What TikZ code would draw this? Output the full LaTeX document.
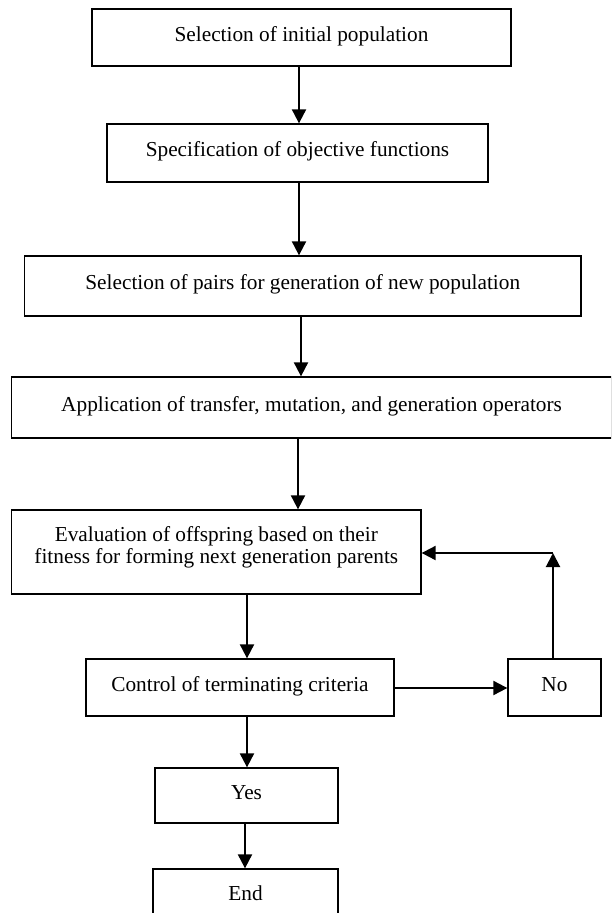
\documentclass[tikz,border=0pt]{standalone}
\usepackage{fontspec}
\setmainfont{Liberation Serif}
\usetikzlibrary{arrows.meta}
\begin{document}
\begin{tikzpicture}[x=1pt,y=-1pt,
  box/.style={draw, line width=1.3pt, inner sep=0pt,
    font=\fontsize{21.3}{22}\selectfont,
    text height=15pt, text depth=8pt, align=center},
  arr/.style={line width=2pt, -{Triangle[length=14pt,width=14pt]}}]
\clip (0,0) rectangle (611,913);
\fill[white] (0,0) rectangle (611,913);
\node[box, minimum width=419pt, minimum height=57pt] (b1) at (301.5,37.5) {Selection of initial population};
\node[box, minimum width=381pt, minimum height=58pt] (b2) at (297.5,153) {Specification of objective functions};
\node[box, minimum width=556.5pt, minimum height=60pt] (b3) at (302.75,286) {Selection of pairs for generation of new population};
\node[box, minimum width=599.8pt, minimum height=61pt] (b4) at (311.6,407.5) {Application of transfer, mutation, and generation operators};
\node[box, minimum width=409.3pt, minimum height=84pt, text height=26pt, text depth=4pt] (b5) at (216.35,552) {Evaluation of offspring based on their\\fitness for forming next generation parents};
\node[box, minimum width=308pt, minimum height=57pt] (b6) at (240,687.5) {Control of terminating criteria};
\node[box, minimum width=93pt, minimum height=57pt] (no) at (554.5,687.5) {No};
\node[box, minimum width=183pt, minimum height=55pt] (yes) at (246.5,795.5) {Yes};
\node[box, minimum width=185pt, minimum height=55pt] (end) at (245.5,896.5) {End};
\coordinate (c1) at (299,0);
\coordinate (c2) at (299,0);
\coordinate (c3) at (301,0);
\coordinate (c4) at (298,0);
\coordinate (c5) at (247,0);
\coordinate (c6) at (247,0);
\coordinate (c7) at (245,0);
\coordinate (c8) at (0,688);
\coordinate (fb) at (553,553);
\draw[arr] (b1.south -| c1) -- (b2.north -| c1);
\draw[arr] (b2.south -| c2) -- (b3.north -| c2);
\draw[arr] (b3.south -| c3) -- (b4.north -| c3);
\draw[arr] (b4.south -| c4) -- (b5.north -| c4);
\draw[arr] (b5.south -| c5) -- (b6.north -| c5);
\draw[arr] (b6.east |- c8) -- (no.west |- c8);
\draw[arr] (no.north -| fb) -- (fb);
\draw[arr] (fb) -- (b5.east |- fb);
\draw[arr] (b6.south -| c6) -- (yes.north -| c6);
\draw[arr] (yes.south -| c7) -- (end.north -| c7);
\end{tikzpicture}
\end{document}
